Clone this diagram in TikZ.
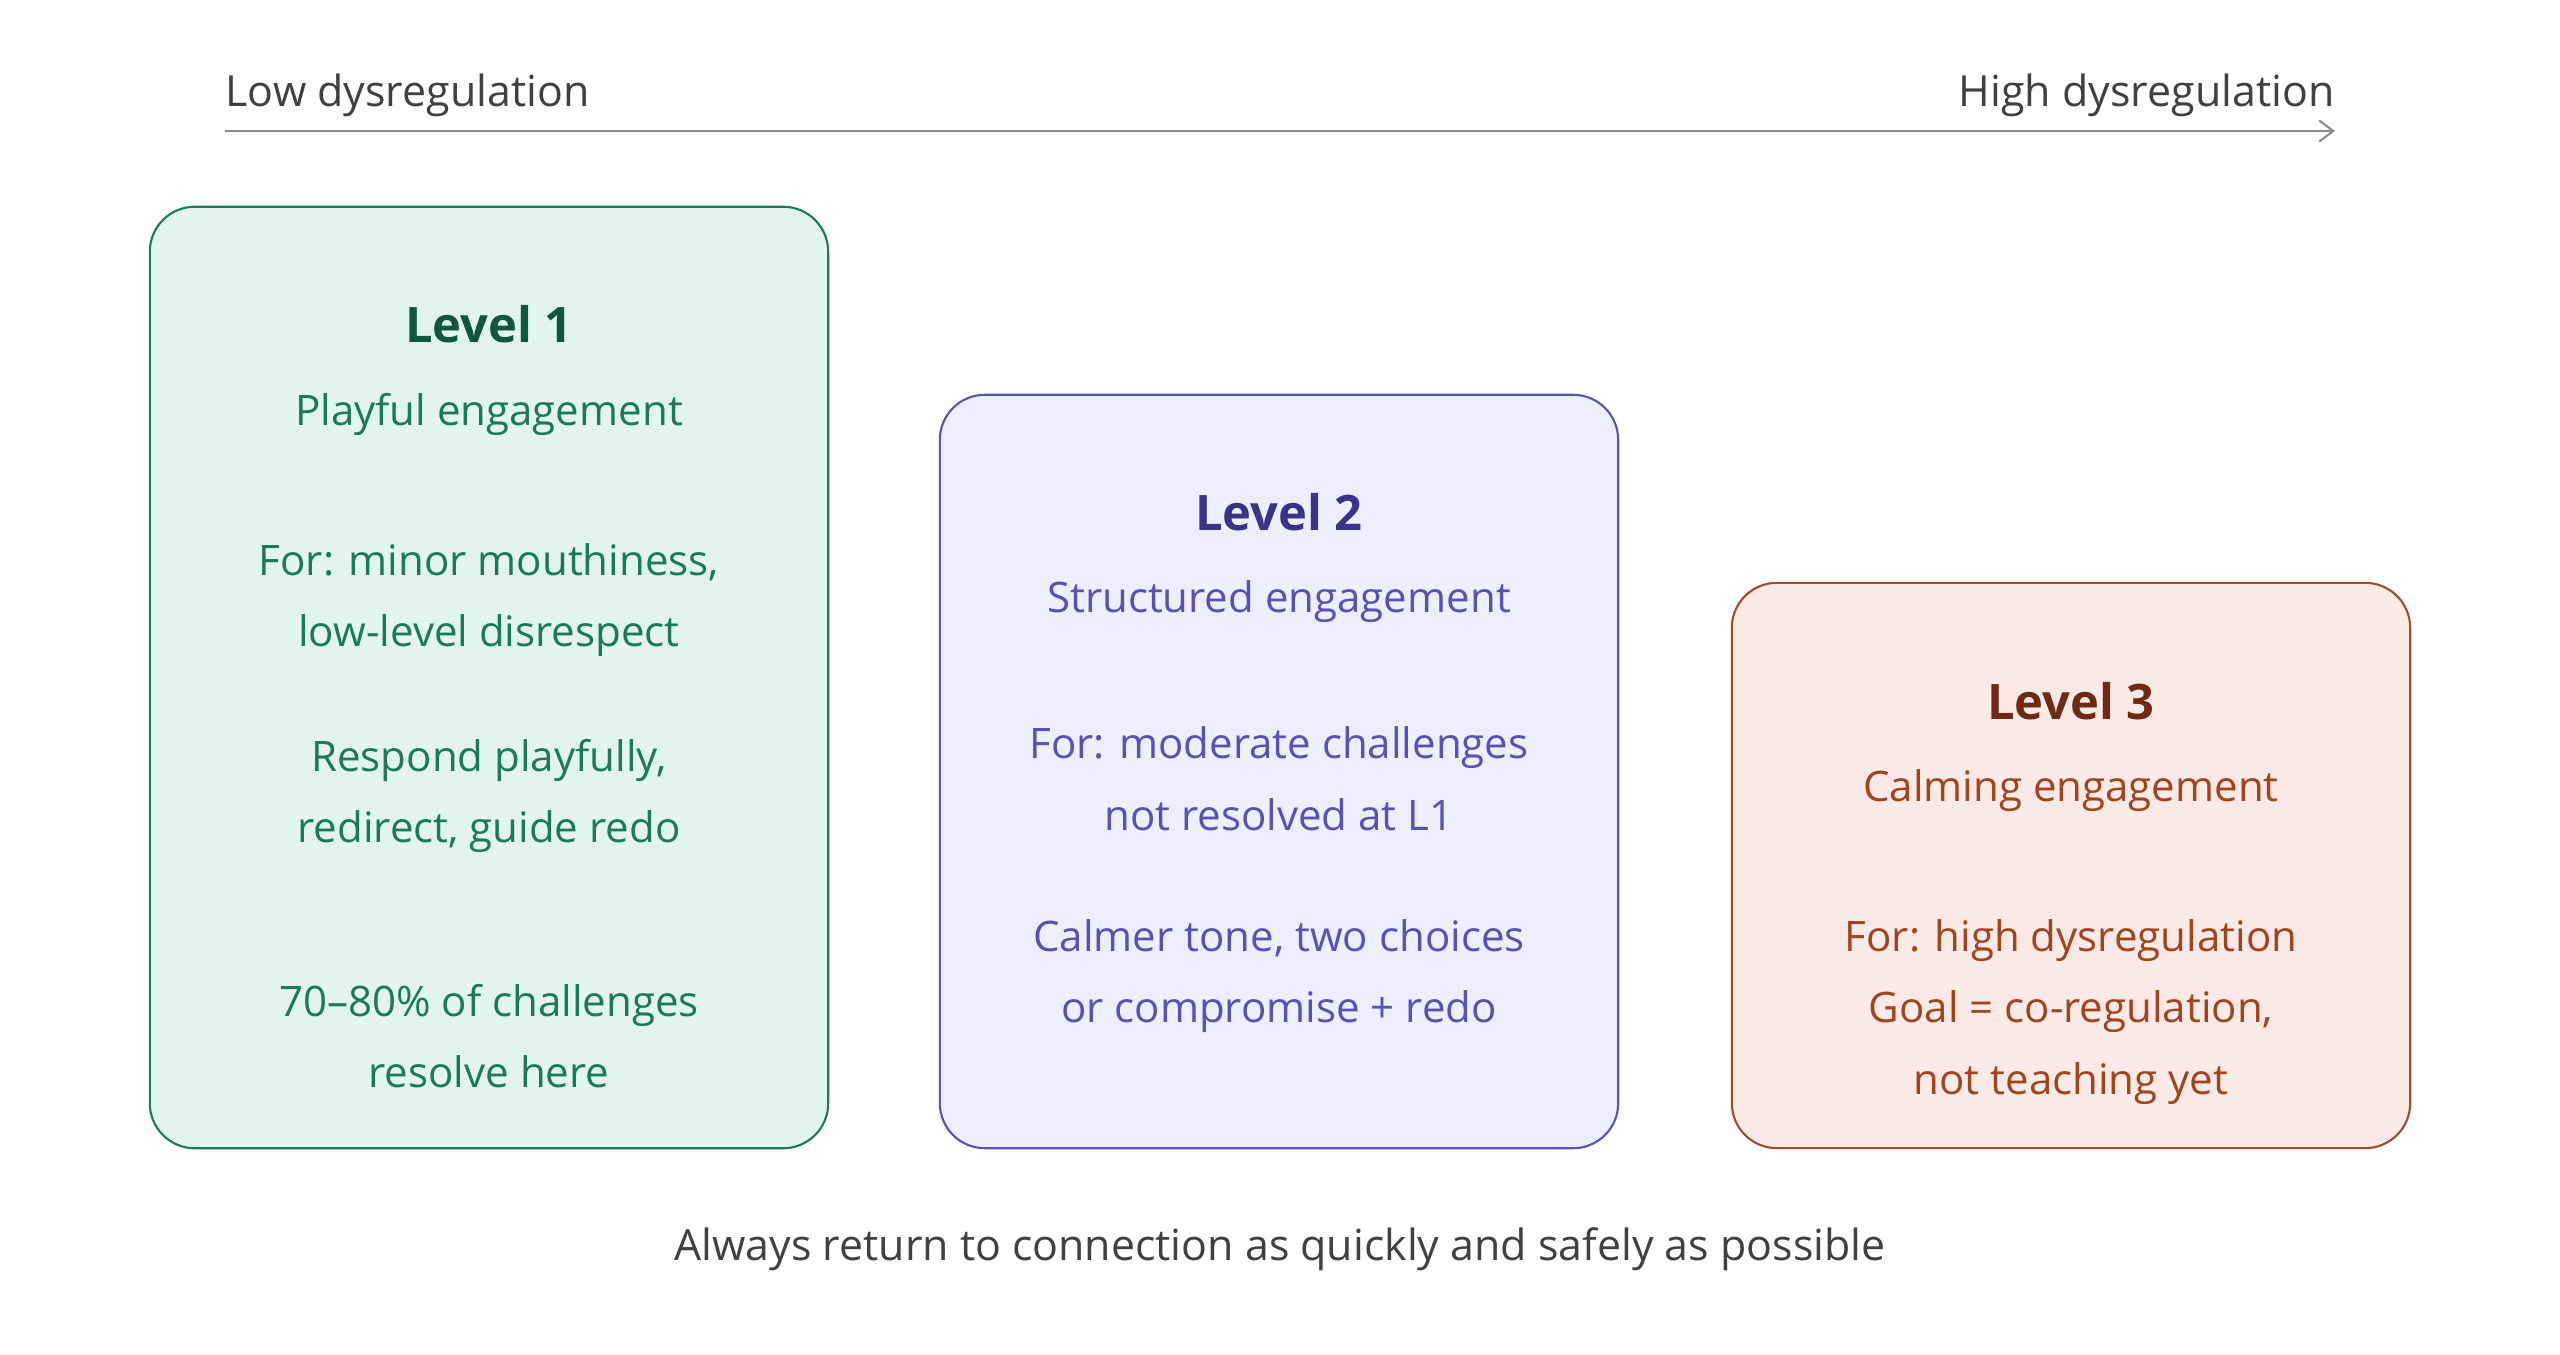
\documentclass[tikz,border=0pt]{standalone}
\usepackage{fontspec}
\setmainfont{Open Sans}
\usetikzlibrary{arrows.meta, positioning}
\definecolor{grnline}{HTML}{1E7A5C}
\definecolor{grnfill}{HTML}{E2F5EE}
\definecolor{grntitle}{HTML}{0E563E}
\definecolor{grntext}{HTML}{1C7A56}
\definecolor{purline}{HTML}{5B52B4}
\definecolor{purfill}{HTML}{EEEEFC}
\definecolor{purtitle}{HTML}{3B3387}
\definecolor{purtext}{HTML}{5A50B6}
\definecolor{redline}{HTML}{A44A2E}
\definecolor{redfill}{HTML}{FBEAE5}
\definecolor{redtitle}{HTML}{6E2A15}
\definecolor{redtext}{HTML}{A2441F}
\definecolor{axistext}{HTML}{404040}
\definecolor{axisline}{HTML}{8A8A8A}
\tikzset{
  lvbox/.style={rectangle, rounded corners=0.45cm, line width=0.6pt,
    minimum width=6.78cm, inner sep=0pt},
  lvtitle/.style={font=\bfseries\fontsize{13.9}{17}\selectfont},
  lvtext/.style={align=center, font=\fontsize{11.95}{20.4}\selectfont},
  axislabel/.style={text=axistext, inner sep=0pt, font=\fontsize{12.2}{15}\selectfont}
}
\begin{document}
\begin{tikzpicture}[x=0.01cm, y=-0.01cm]
  \useasboundingbox (0,0) rectangle (2560,1355);
  % scale from low to high
  \coordinate (low) at (225,131);
  \coordinate (high) at (2335,131);
  \draw[axisline, line width=0.6pt, -{Straight Barb[length=4pt, width=6pt]}] (low) -- (high);
  \node[axislabel, anchor=west] (lowlab) at (225,95) {Low dysregulation};
  \node[axislabel, anchor=east] (highlab) at (2335,95) {High dysregulation};
  % the three levels
  \node[lvbox, draw=grnline, fill=grnfill, minimum height=9.41cm] (L1) at (489,677.5) {};
  \node[lvbox, draw=purline, fill=purfill, minimum height=7.53cm] (L2) at (1279,771.5) {};
  \node[lvbox, draw=redline, fill=redfill, minimum height=5.65cm] (L3) at (2071,865.5) {};
  % level 1
  \node[lvtitle, text=grntitle] (L1t) at (489,324) {Level 1};
  \node[lvtext, text=grntext] (L1s) at (489,414) {Playful engagement};
  \node[lvtext, text=grntext] (L1a) at (489,600) {For: minor mouthiness,\\low-level disrespect};
  \node[lvtext, text=grntext] (L1b) at (489,796) {Respond playfully,\\redirect, guide redo};
  \node[lvtext, text=grntext] (L1c) at (489,1036) {70--80\% of challenges\\resolve here};
  % level 2
  \node[lvtitle, text=purtitle] (L2t) at (1279,512) {Level 2};
  \node[lvtext, text=purtext] (L2s) at (1279,602) {Structured engagement};
  \node[lvtext, text=purtext] (L2a) at (1279,779) {For: moderate challenges\\not resolved at L1};
  \node[lvtext, text=purtext] (L2b) at (1279,976) {Calmer tone, two choices\\or compromise + redo};
  % level 3
  \node[lvtitle, text=redtitle] (L3t) at (2071,701) {Level 3};
  \node[lvtext, text=redtext] (L3s) at (2071,791) {Calming engagement};
  \node[lvtext, text=redtext] (L3a) at (2071,1012) {For: high dysregulation\\Goal = co-regulation,\\not teaching yet};
  % closing note
  \node[axislabel] (note) at (1280,1249) {Always return to connection as quickly and safely as possible};
\end{tikzpicture}
\end{document}
